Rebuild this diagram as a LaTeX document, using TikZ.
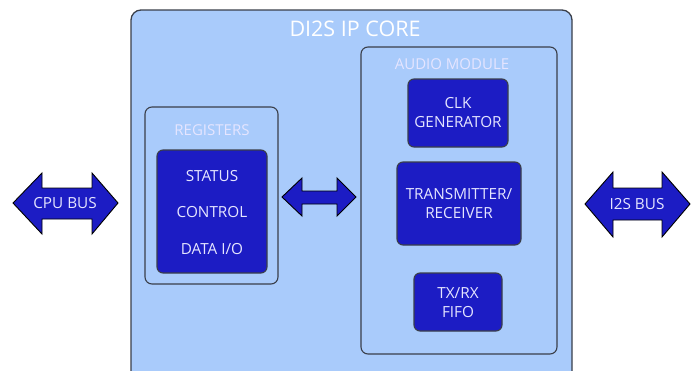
\documentclass[tikz,border=0pt]{standalone}
\usepackage{fontspec}
\setmainfont{Open Sans}
\usetikzlibrary{positioning}

\definecolor{corefill}{HTML}{A9CBFB}
\definecolor{blockfill}{HTML}{1C1CC4}
\definecolor{edgegray}{HTML}{3A3F4A}

\tikzset{
  frame/.style={draw=edgegray, line width=1.3pt, fill=corefill, rounded corners=10pt},
  subframe/.style={draw=edgegray, line width=1.1pt, fill=corefill, rounded corners=7pt},
  block/.style={draw=edgegray, line width=1.1pt, fill=blockfill, rounded corners=6pt},
  busarrow/.style={draw=black, line width=0.9pt, fill=blockfill, line join=miter},
  title/.style={text=white, font=\fontsize{21.5}{24}\selectfont},
  subtitle/.style={text=white!90!blue, font=\fontsize{15}{18}\selectfont},
  label/.style={text=white!90!blue, font=\fontsize{15.3}{19}\selectfont, align=center, inner sep=0pt}
}

\begin{document}
\begin{tikzpicture}[x=1pt,y=-1pt]
  \useasboundingbox (0,0) rectangle (697,370);
  \clip (0,0) rectangle (697,370);

  % core
  \draw[frame] (131,10) rectangle (572,390);
  \node[title] (core) at (355,29) {DI2S IP CORE};

  % registers
  \draw[subframe] (145,107) rectangle (278,284);
  \node[subtitle] (regs) at (212,130) {REGISTERS};
  \draw[block] (157,150) rectangle (267,273);
  \node[label] (status) at (212,176) {STATUS};
  \node[label] (control) at (212,212) {CONTROL};
  \node[label] (dataio) at (212,249) {DATA I/O};

  % audio module
  \draw[subframe] (361,47) rectangle (557,354);
  \node[subtitle] (audio) at (452,64) {AUDIO MODULE};
  \draw[block] (408,79) rectangle (508,147);
  \node[label] (clk) at (458,113) {CLK\\GENERATOR};
  \draw[block] (397,162) rectangle (521,245);
  \node[label] (txrx) at (459,204) {TRANSMITTER/\\RECEIVER};
  \draw[block] (414,273) rectangle (502,331);
  \node[label] (fifo) at (458,303) {TX/RX\\FIFO};

  % bus arrows
  \draw[busarrow] (13,203) -- (42,173) -- (42,188) -- (92,188) -- (92,173)
    -- (118,203) -- (92,234) -- (92,219) -- (42,219) -- (42,234) -- cycle;
  \node[label] (cpubus) at (65,203) {CPU BUS};

  \draw[busarrow] (282,197) -- (302,178) -- (302,191) -- (337,191) -- (337,178)
    -- (356,197) -- (337,216) -- (337,204) -- (302,204) -- (302,216) -- cycle;

  \draw[busarrow] (585,204) -- (613,172) -- (613,188) -- (662,188) -- (662,172)
    -- (690,204) -- (662,237) -- (662,220) -- (613,220) -- (613,237) -- cycle;
  \node[label] (i2sbus) at (637,204) {I2S BUS};
\end{tikzpicture}
\end{document}
